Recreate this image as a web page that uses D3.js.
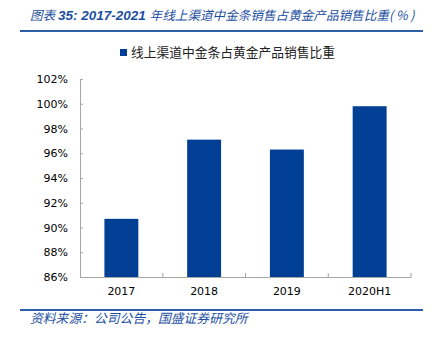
<!DOCTYPE html>
<html>
<head>
<meta charset="utf-8">
<script src="https://cdn.jsdelivr.net/npm/d3@7"></script>
<style>
  html, body { margin: 0; padding: 0; background: #fff; }
  svg { display: block; }
</style>
</head>
<body>
<svg id="chart" width="434" height="339"></svg>
<script>
// Share of gold bars in online-channel gold product sales (%)
const categories = ["2017", "2018", "2019", "2020H1"];
const shareValues = [90.7, 97.1, 96.3, 99.8];
const yTicks = [86, 88, 90, 92, 94, 96, 98, 100, 102];

const titleLabel = "图表 ";
const titleNumber = "35: 2017-2021 ";
const titleRest = "年线上渠道中金条销售占黄金产品销售比重( % )";
const legendLabel = "线上渠道中金条占黄金产品销售比重";
const sourceText = "资料来源：公司公告，国盛证券研究所";

const blue = "#1d4f9f";
const barColor = "#003f93";
const axisColor = "#a6a6a6";
const cjkFont = "'Noto Sans CJK SC', sans-serif";
const numFont = "'DejaVu Sans', Verdana, sans-serif";

const svg = d3.select("#chart");

// Header
const title = svg.append("text")
  .attr("x", 30).attr("y", 20)
  .attr("fill", blue)
  .attr("font-style", "italic")
  .attr("font-size", 12.6);
title.append("tspan").attr("font-family", cjkFont).text(titleLabel);
title.append("tspan")
  .attr("font-family", "'Liberation Sans', Arial, sans-serif")
  .attr("font-weight", "bold")
  .attr("font-size", 13.5)
  .text(titleNumber);
title.append("tspan").attr("font-family", cjkFont).text(titleRest);

svg.append("line")
  .attr("x1", 20).attr("x2", 423).attr("y1", 31).attr("y2", 31)
  .attr("stroke", "#2c5fa8").attr("stroke-width", 2);

// Scales
const x = d3.scaleBand().domain(categories).range([80, 411]).paddingInner(0.59).paddingOuter(0.295);
const y = d3.scaleLinear().domain([86, 102]).range([277, 79]);

// Y axis with short inward ticks
const yAxis = svg.append("g")
  .attr("transform", "translate(80,0)")
  .call(d3.axisLeft(y).tickValues(yTicks).tickFormat(d => d + "%")
    .tickSizeInner(-3).tickSizeOuter(0).tickPadding(12));
yAxis.select(".domain").attr("stroke", axisColor);
yAxis.selectAll(".tick line").attr("stroke", axisColor);
yAxis.selectAll("text")
  .attr("font-family", numFont).attr("font-size", 11).attr("fill", "#000");

// Bars
svg.append("g").selectAll("rect")
  .data(categories.map((c, i) => ({ c, v: shareValues[i] })))
  .join("rect")
  .attr("x", d => x(d.c))
  .attr("width", x.bandwidth())
  .attr("y", d => y(d.v))
  .attr("height", d => y(86) - y(d.v))
  .attr("fill", barColor);

// X axis: baseline, category boundary ticks, labels
const xAxis = svg.append("g")
  .attr("transform", `translate(0,${y(86)})`)
  .call(d3.axisBottom(x).tickSize(0).tickPadding(10));
xAxis.select(".domain").attr("stroke", axisColor);
xAxis.selectAll("text")
  .attr("font-family", numFont).attr("font-size", 11).attr("fill", "#000");
const step = x.step();
const bounds = categories.map((c, i) => x.range()[0] + step * (i + 1));
xAxis.selectAll(".bound")
  .data(bounds)
  .join("line")
  .attr("class", "bound")
  .attr("x1", d => d).attr("x2", d => d)
  .attr("y1", 0).attr("y2", -4)
  .attr("stroke", axisColor);

// Legend
svg.append("rect")
  .attr("x", 120).attr("y", 49).attr("width", 7).attr("height", 7)
  .attr("fill", barColor);
svg.append("text")
  .attr("x", 131).attr("y", 57)
  .attr("font-family", cjkFont).attr("font-size", 12.75)
  .attr("fill", "#222")
  .text(legendLabel);

// Footer
svg.append("line")
  .attr("x1", 20).attr("x2", 423).attr("y1", 310).attr("y2", 310)
  .attr("stroke", "#2c5fa8").attr("stroke-width", 2);
svg.append("text")
  .attr("x", 30).attr("y", 323)
  .attr("font-family", cjkFont).attr("font-size", 12.8)
  .attr("font-style", "italic")
  .attr("fill", blue)
  .text(sourceText);
</script>
</body>
</html>
